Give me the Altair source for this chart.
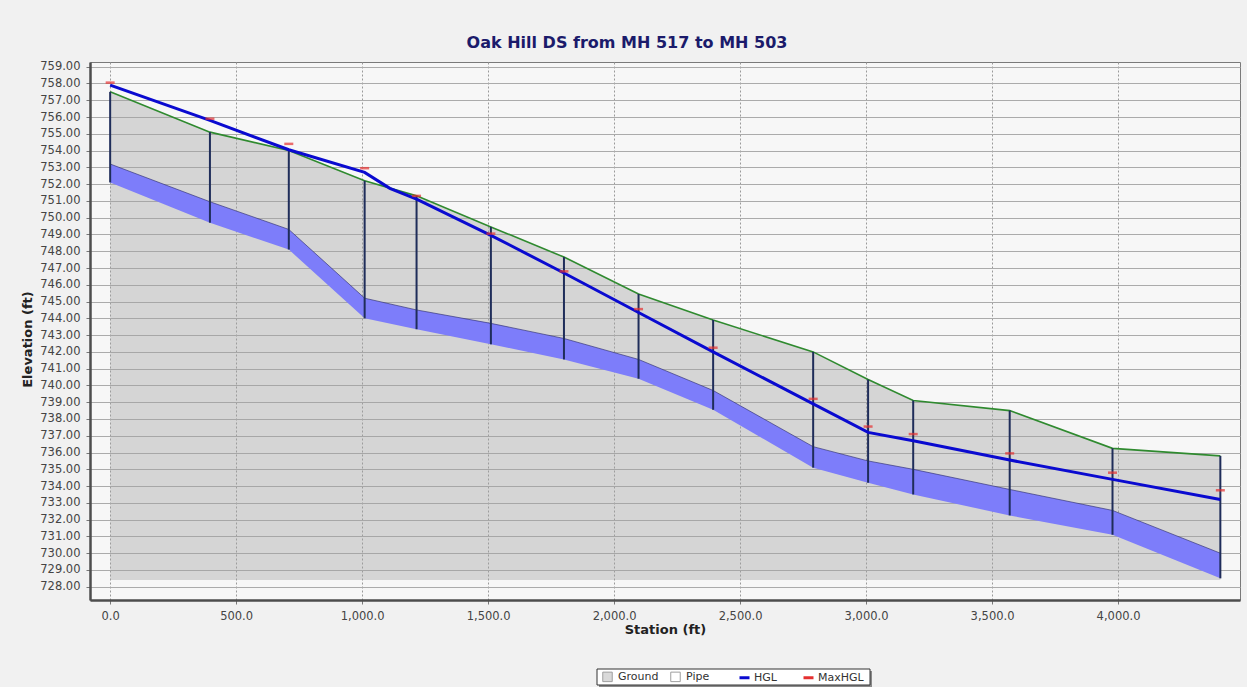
import altair as alt
import pandas as pd

chart_title = "Oak Hill DS from MH 517 to MH 503"

# manhole stations (ft) and elevations (ft)
stations = [0, 396, 709, 1010, 1216, 1511, 1801, 2097, 2393, 2790, 3008, 3187, 3570, 3978, 4406]
ground = [757.5, 755.1, 754.0, 752.2, 751.3, 749.45, 747.65, 745.45, 743.9, 742.0, 740.35, 739.1, 738.5, 736.25, 735.8]
pipe_top = [753.2, 750.95, 749.3, 745.2, 744.5, 743.7, 742.8, 741.55, 739.7, 736.35, 735.5, 735.0, 733.8, 732.55, 730.0]
pipe_bottom = [752.1, 749.7, 748.1, 744.0, 743.35, 742.45, 741.55, 740.4, 738.55, 735.1, 734.2, 733.5, 732.25, 731.1, 728.5]
max_hgl = [758.05, 755.9, 754.4, 752.95, 751.3, 749.05, 746.8, 744.55, 742.25, 739.2, 737.55, 737.1, 735.95, 734.8, 733.75]

# hydraulic grade line
hgl_stations = [0, 396, 709, 1010, 1110, 1216, 1511, 1801, 2097, 2393, 2790, 3008, 3187, 3570, 3978, 4406]
hgl = [757.9, 755.8, 754.05, 752.7, 751.75, 751.1, 748.95, 746.7, 744.35, 742.0, 738.9, 737.2, 736.7, 735.55, 734.4, 733.2]

ground_base = 728.4

y_ticks = list(range(728, 760))
x_ticks = list(range(0, 4001, 500))

fill_items = ["Ground", "Pipe"]
fill_colors = ["#c9c9c9", "#ffffff"]
line_items = ["HGL", "MaxHGL"]
line_colors = ["#0a0ad0", "#e53030"]

FONT = "DejaVu Sans"
W, H = 1150, 538

mh = pd.DataFrame({"station": stations, "ground": ground, "top": pipe_top,
                   "bottom": pipe_bottom, "maxhgl": max_hgl})
hg = pd.DataFrame({"station": hgl_stations, "hgl": hgl})

xscale = alt.Scale(domain=[-80, 4484], nice=False, zero=False)
yscale = alt.Scale(domain=[727.21, 759.28], nice=False, zero=False)

xaxis = alt.Axis(values=x_ticks, format=",.1f", labelFont=FONT, labelFontSize=11.5, labelColor="#444",
                 labelPadding=6, tickSize=4, tickColor="#777", domainColor="#4d4d4d", domainWidth=2.5,
                 gridColor="#9a9a9a", gridDash=[2, 2], gridWidth=1,
                 titleFont=FONT, titleFontSize=13, titleFontWeight="bold", titleColor="#222",
                 titleX=575, titleY=29, titleBaseline="middle", titleAlign="center")
yaxis = alt.Axis(values=y_ticks, format=".2f", labelFont=FONT, labelFontSize=11.5, labelColor="#444",
                 labelPadding=6, tickSize=4, tickColor="#777", domainColor="#4d4d4d", domainWidth=2.5,
                 gridColor="#ababab", gridWidth=1,
                 titleFont=FONT, titleFontSize=13, titleFontWeight="bold", titleColor="#222",
                 titleX=-63, titleY=277, titleAngle=270, titleAlign="center", titleBaseline="middle")


def X(field="station"):
    return alt.X(f"{field}:Q", scale=xscale, axis=xaxis, title="Station (ft)")


def Y(field):
    return alt.Y(f"{field}:Q", scale=yscale, axis=yaxis, title="Elevation (ft)")


ground_area = alt.Chart(mh).mark_area(color="#a2a2a2", opacity=0.4).encode(
    x=X(), y=Y("ground"), y2=alt.datum(ground_base))

pipe_band = alt.Chart(mh).mark_area(color="#7d7dfa").encode(
    x=X(), y=Y("bottom"), y2="top:Q")

pipe_edge = alt.Chart(mh).mark_line(color="#2c2c70", strokeWidth=0.8, opacity=0.8).encode(
    x=X(), y=Y("top"))

ground_line = alt.Chart(mh).mark_line(color="#2f8a2f", strokeWidth=1.6).encode(
    x=X(), y=Y("ground"))

manholes = alt.Chart(mh).mark_rule(color="#1f2d5a", strokeWidth=2).encode(
    x=X(), y=Y("bottom"), y2="ground:Q")

hgl_line = alt.Chart(hg).mark_line(color="#0a0ad0", strokeWidth=3).encode(
    x=X(), y=Y("hgl"))

max_ticks = alt.Chart(mh).mark_tick(color="#e53030", orient="horizontal", size=9, thickness=2.5).encode(
    x=X(), y=Y("maxhgl"))

# legend box (decoration)
box_data = alt.Data(values=[{"b": 1}])
box_shadow = alt.Chart(box_data).mark_rect(fill="#8a8a8a").encode(
    x=alt.value(509), x2=alt.value(782), y=alt.value(609), y2=alt.value(625))
box = alt.Chart(box_data).mark_rect(fill="#ffffff", stroke="#333333", strokeWidth=1).encode(
    x=alt.value(507), x2=alt.value(780), y=alt.value(607), y2=alt.value(623))

fill_leg_data = alt.Data(values=[{"k": k, "station": None, "v": None} for k in fill_items])
line_leg_data = alt.Data(values=[{"k": k, "station": None, "v": None} for k in line_items])

fill_legend = alt.Chart(fill_leg_data).mark_square().encode(
    x=X(), y=Y("v"),
    fill=alt.Fill("k:N", scale=alt.Scale(domain=fill_items, range=fill_colors),
                  legend=alt.Legend(title=None, orient="none", legendX=512, legendY=609,
                                    direction="horizontal", symbolType="square", symbolSize=90,
                                    symbolStrokeColor="#777777", symbolStrokeWidth=1,
                                    labelFont=FONT, labelFontSize=11, labelColor="#333",
                                    labelOffset=5, columnPadding=9, padding=0, zindex=1)))

line_legend = alt.Chart(line_leg_data).mark_line().encode(
    x=X(), y=Y("v"),
    stroke=alt.Stroke("k:N", scale=alt.Scale(domain=line_items, range=line_colors),
                      legend=alt.Legend(title=None, orient="none", legendX=648, legendY=609,
                                        direction="horizontal", symbolType="stroke", symbolSize=100,
                                        symbolStrokeWidth=3,
                                        labelFont=FONT, labelFontSize=11, labelColor="#333",
                                        labelOffset=3, columnPadding=20, padding=0, zindex=1)))

chart = alt.layer(
    ground_area, pipe_band, pipe_edge, ground_line, manholes, hgl_line, max_ticks,
    box_shadow, box, fill_legend, line_legend
).resolve_legend(fill="independent", stroke="independent").properties(
    width=W, height=H,
    title=alt.TitleParams(text=chart_title, font=FONT, fontSize=16, fontWeight="bold",
                          color="#1b1b6b", anchor="middle", frame="group", dx=-38, offset=10),
    background="#f1f1f1",
    padding={"left": 90, "top": 62, "right": 7, "bottom": 87},
    autosize=alt.AutoSizeParams(type="none"),
).configure_view(fill="#f7f7f7", stroke="#7a7a7a", strokeWidth=1)

chart.save("out.html", embed_options={"renderer": "svg", "actions": False})
